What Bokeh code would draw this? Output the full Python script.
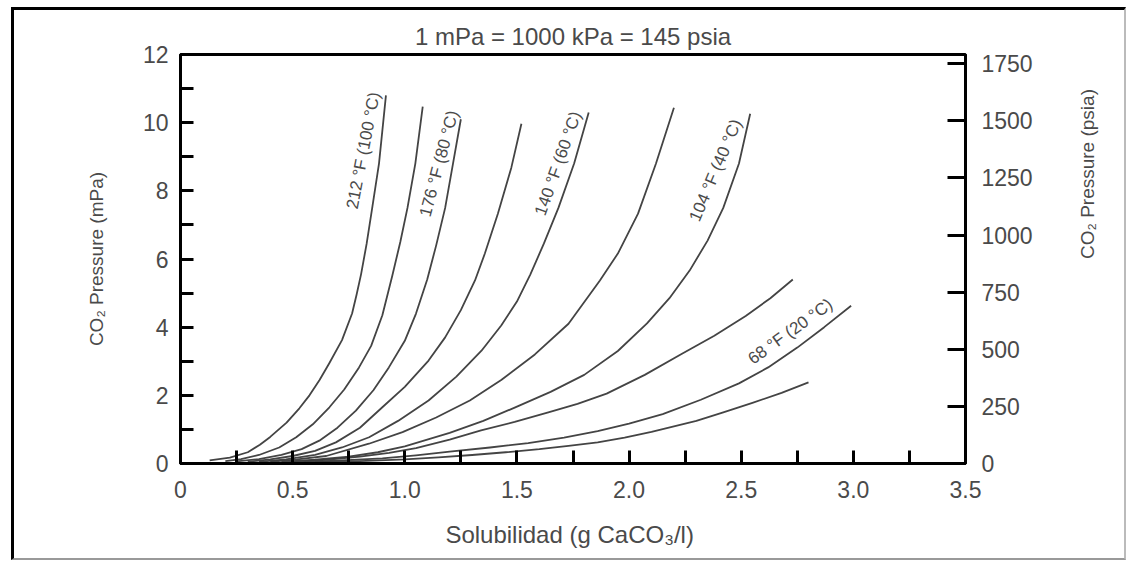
import math
import numpy as np
from bokeh.plotting import figure
from bokeh.models import Range1d, LinearAxis, FixedTicker
from bokeh.core.properties import value
from bokeh.embed import file_html
from bokeh.resources import INLINE

# ---------------- data ----------------
title_text = "1 mPa = 1000 kPa = 145 psia"
x_label = "Solubilidad  (g CaCO\u2083/l)"
y_label_left = "CO\u2082 Pressure (mPa)"
y_label_right = "CO\u2082 Pressure (psia)"

x_ticks = [0, 0.5, 1.0, 1.5, 2.0, 2.5, 3.0, 3.5]
x_tick_labels = ["0", "0.5", "1.0", "1.5", "2.0", "2.5", "3.0", "3.5"]
x_minor_ticks = [0.25, 0.75, 1.25, 1.75, 2.25, 2.75, 3.25]
y_ticks = [0, 2, 4, 6, 8, 10, 12]
y_minor_ticks = [1, 3, 5, 7, 9, 11]
psi_ticks = [0, 250, 500, 750, 1000, 1250, 1500, 1750]

# solubility (g CaCO3/l) and CO2 pressure (MPa) along each isotherm
sol_1 = [0.13, 0.22, 0.30, 0.354, 0.40, 0.473, 0.53, 0.575, 0.62, 0.664, 0.72, 0.765, 0.785, 0.805, 0.83, 0.856, 0.885, 0.916]
pres_1 = [0.09, 0.17, 0.33, 0.55, 0.78, 1.20, 1.62, 2.00, 2.45, 2.95, 3.62, 4.40, 4.95, 5.55, 6.45, 7.55, 8.80, 10.8]
sol_2 = [0.20, 0.27, 0.35, 0.44, 0.516, 0.59, 0.664, 0.73, 0.796, 0.85, 0.90, 0.944, 0.98, 1.012, 1.047, 1.08]
pres_2 = [0.07, 0.13, 0.25, 0.47, 0.77, 1.15, 1.65, 2.17, 2.82, 3.45, 4.35, 5.50, 6.50, 7.50, 8.80, 10.47]
sol_3 = [0.25, 0.35, 0.45, 0.54, 0.619, 0.70, 0.782, 0.86, 0.929, 1.00, 1.05, 1.10, 1.14, 1.18, 1.215, 1.25]
pres_3 = [0.06, 0.13, 0.25, 0.42, 0.67, 1.05, 1.55, 2.15, 2.82, 3.60, 4.40, 5.40, 6.40, 7.50, 8.80, 10.1]
sol_4 = [0.30, 0.40, 0.50, 0.60, 0.693, 0.80, 0.90, 1.00, 1.106, 1.18, 1.25, 1.313, 1.357, 1.415, 1.475, 1.52]
pres_4 = [0.05, 0.12, 0.22, 0.37, 0.62, 1.05, 1.65, 2.25, 3.02, 3.70, 4.50, 5.37, 6.16, 7.33, 8.68, 9.97]
sol_5 = [0.35, 0.47, 0.60, 0.72, 0.841, 0.97, 1.106, 1.23, 1.342, 1.43, 1.50, 1.56, 1.62, 1.685, 1.755, 1.82]
pres_5 = [0.05, 0.12, 0.25, 0.47, 0.77, 1.25, 1.85, 2.55, 3.31, 4.05, 4.75, 5.55, 6.45, 7.50, 8.80, 10.3]
sol_6 = [0.40, 0.52, 0.65, 0.84, 0.99, 1.14, 1.29, 1.43, 1.58, 1.73, 1.87, 1.95, 2.04, 2.12, 2.20]
pres_6 = [0.05, 0.12, 0.22, 0.58, 0.92, 1.35, 1.85, 2.45, 3.20, 4.10, 5.37, 6.16, 7.33, 8.80, 10.44]
sol_7 = [0.45, 0.60, 0.75, 0.88, 1.00, 1.20, 1.35, 1.49, 1.65, 1.80, 1.95, 2.08, 2.18, 2.27, 2.35, 2.42, 2.49, 2.54]
pres_7 = [0.05, 0.11, 0.20, 0.33, 0.50, 0.90, 1.25, 1.64, 2.10, 2.60, 3.30, 4.11, 4.85, 5.66, 6.54, 7.50, 8.80, 10.26]
sol_8 = [0.50, 0.65, 0.80, 0.93, 1.05, 1.20, 1.34, 1.49, 1.64, 1.77, 1.90, 2.07, 2.23, 2.38, 2.52, 2.63, 2.73]
pres_8 = [0.05, 0.11, 0.20, 0.31, 0.45, 0.70, 0.97, 1.22, 1.50, 1.75, 2.05, 2.60, 3.20, 3.75, 4.33, 4.85, 5.40]
sol_9 = [0.55, 0.72, 0.90, 1.05, 1.20, 1.38, 1.55, 1.71, 1.86, 2.00, 2.15, 2.32, 2.49, 2.62, 2.75, 2.87, 2.99]
pres_9 = [0.04, 0.09, 0.15, 0.24, 0.35, 0.47, 0.60, 0.76, 0.95, 1.17, 1.45, 1.87, 2.35, 2.82, 3.40, 4.00, 4.63]
sol_10 = [0.60, 0.80, 1.00, 1.15, 1.30, 1.45, 1.60, 1.73, 1.86, 1.98, 2.10, 2.30, 2.42, 2.55, 2.68, 2.80]
pres_10 = [0.04, 0.07, 0.12, 0.18, 0.25, 0.33, 0.42, 0.52, 0.62, 0.76, 0.93, 1.25, 1.50, 1.78, 2.07, 2.38]

curves_sol = [sol_1, sol_2, sol_3, sol_4, sol_5, sol_6, sol_7, sol_8, sol_9, sol_10]
curves_pres = [pres_1, pres_2, pres_3, pres_4, pres_5, pres_6, pres_7, pres_8, pres_9, pres_10]

# isotherm labels and the curve each one annotates
iso_labels = ["212 \u00b0F (100 \u00b0C)", "176 \u00b0F (80 \u00b0C)", "140 \u00b0F (60 \u00b0C)",
              "104 \u00b0F (40 \u00b0C)", "68 \u00b0F (20 \u00b0C)"]
iso_curve = [0, 2, 4, 6, 8]

# ---------------- styling ----------------
FONT = "Liberation Sans"
TXT = "#4a4a4a"
LINE = "#3a3a3a"

p = figure(width=1115, height=553,
           x_range=Range1d(0, 3.5), y_range=Range1d(0, 12),
           output_backend="svg", toolbar_location=None,
           min_border_left=166, min_border_right=164,
           min_border_top=44, min_border_bottom=100,
           title=title_text)
p.styles = {"margin-left": "11px", "margin-top": "7px",
            "border-left": "3px solid #000", "border-top": "3px solid #000",
            "border-right": "2px solid #bbb", "border-bottom": "2px solid #999"}

p.title.align = "center"
p.title.text_font = FONT
p.title.text_font_size = "24px"
p.title.text_font_style = "normal"
p.title.text_color = TXT
p.title.standoff = 9

p.xgrid.visible = False
p.ygrid.visible = False
p.outline_line_color = "black"
p.outline_line_width = 3
p.outline_line_alpha = 1.0
p.background_fill_color = "white"
p.border_fill_color = "white"


def style_axis(ax, tick_len, minor_len=0):
    ax.axis_line_color = "black"
    ax.axis_line_width = 3
    ax.major_tick_line_color = "black"
    ax.major_tick_line_width = 3
    ax.major_tick_in = tick_len
    ax.major_tick_out = 0
    ax.minor_tick_line_color = "black" if minor_len else None
    ax.minor_tick_line_width = 3
    ax.minor_tick_in = minor_len
    ax.minor_tick_out = 0
    ax.major_label_text_font = FONT
    ax.major_label_text_font_size = "23px"
    ax.major_label_text_color = TXT
    ax.axis_label_text_font = FONT
    ax.axis_label_text_font_style = "normal"
    ax.axis_label_text_color = TXT


xa = p.xaxis[0]
xa.ticker = FixedTicker(ticks=x_ticks, minor_ticks=x_minor_ticks)
xa.major_label_overrides = {float(t): s for t, s in zip(x_ticks, x_tick_labels)}
style_axis(xa, 13, 13)
xa.major_label_standoff = 17
xa.axis_label = x_label
xa.axis_label_text_font_size = "24px"
xa.axis_label_standoff = 20

ya = p.yaxis[0]
ya.ticker = FixedTicker(ticks=y_ticks, minor_ticks=y_minor_ticks)
style_axis(ya, 13, 13)
ya.major_label_standoff = 12
ya.axis_label = y_label_left
ya.axis_label_text_font_size = "19px"
ya.axis_label_standoff = 33

p.extra_y_ranges = {"psi": Range1d(0, 1790)}
ra = LinearAxis(y_range_name="psi", ticker=FixedTicker(ticks=psi_ticks, minor_ticks=[]))
style_axis(ra, 18, 0)
ra.major_label_standoff = 16
ra.axis_label = y_label_right
ra.axis_label_text_font_size = "19px"
ra.axis_label_standoff = 52
ra.axis_label_orientation = math.pi / 2
p.add_layout(ra, "right")

for sx, sy in zip(curves_sol, curves_pres):
    p.line(sx, sy, line_color=LINE, line_width=1.8, line_alpha=0.95, line_join="round")

# label placement: level on the curve (MPa), horizontal pixel offset, rotation (deg)
label_level = [9.18, 8.8, 8.8, 8.6, 3.87]
label_dx = [-17, -14, -16, -21, -28]
label_angle = [79, 75, 70.5, 67, 35.7]

for txt, ci, lv, dx, ang in zip(iso_labels, iso_curve, label_level, label_dx, label_angle):
    xs = float(np.interp(lv, curves_pres[ci], curves_sol[ci]))
    p.text(x=[xs], y=[lv], text=[txt], angle=ang, angle_units="deg",
           x_offset=dx, text_align="center", text_baseline="middle",
           text_font=value(FONT), text_font_size="17px", text_font_style="normal",
           text_color=TXT)

open("out.html", "w").write(file_html(p, INLINE))
